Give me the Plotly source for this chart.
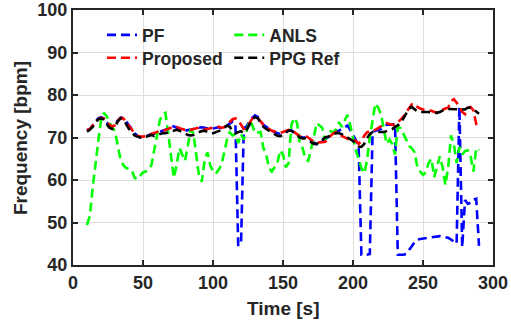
import plotly.graph_objects as go

time_s = list(range(10, 292, 2))

ppg_ref = [
    71.4, 71.8, 72.5, 73.5, 74.3, 74.5, 74.2, 73.2, 72.3, 72.0,
    72.5, 73.8, 74.5, 74.3, 73.0, 72.0, 71.2, 70.5, 70.2, 70.0,
    70.0, 70.2, 70.5, 70.6, 70.4, 70.6, 70.8, 71.0, 71.0, 71.2,
    71.3, 71.5, 71.8, 71.6, 71.2, 70.8, 70.6, 70.5, 70.6, 71.0,
    71.3, 71.5, 71.6, 71.3, 71.0, 71.0, 71.2, 71.5, 71.8, 72.2,
    72.8, 72.5, 71.5, 71.0, 71.2, 71.5, 71.0, 71.8, 73.0, 74.2,
    74.8, 74.5, 73.5, 72.5, 72.0, 71.5, 71.2, 70.8, 70.4, 70.3,
    70.6, 71.2, 71.6, 71.6, 71.0, 70.5, 70.0, 69.8, 69.8, 69.3,
    68.8, 68.5, 68.5, 68.8, 69.4, 70.0, 70.2, 70.4, 70.8, 71.0,
    71.0, 70.8, 70.4, 70.0, 69.8, 69.2, 68.5, 67.9, 67.8, 68.5,
    69.8, 70.8, 71.3, 71.3, 71.3, 71.3, 71.3, 71.5, 71.8, 72.0,
    72.5, 73.0, 73.3, 74.5, 75.8, 76.8, 77.2, 76.6, 76.1, 76.0,
    76.0, 76.0, 76.0, 75.8, 75.8, 75.8, 76.0, 76.4, 76.7, 76.7,
    76.7, 76.7, 76.7, 76.7, 76.6, 76.6, 77.0, 77.0, 76.6, 76.0,
    75.6,
]

proposed = [
    71.8, 72.0, 72.8, 73.6, 74.3, 74.6, 74.5, 73.8, 73.0, 72.6,
    72.9, 74.0, 74.6, 74.5, 73.6, 72.6, 71.8, 71.0, 70.4, 70.2,
    70.2, 70.4, 70.6, 70.8, 71.0, 71.3, 71.5, 71.5, 71.8, 72.0,
    72.3, 72.5, 72.5, 72.2, 72.0, 71.8, 71.8, 71.8, 72.0, 72.2,
    72.3, 72.2, 72.0, 72.0, 72.2, 72.3, 72.5, 72.5, 72.3, 72.4,
    73.0, 73.6, 74.3, 74.5, 74.2, 73.0, 72.0, 72.4, 73.5, 74.4,
    74.9, 74.6, 73.8, 73.0, 72.5, 72.0, 71.6, 71.4, 71.2, 71.1,
    71.3, 71.6, 71.8, 71.8, 71.3, 70.8, 70.3, 70.2, 70.4, 70.0,
    69.4, 69.0, 68.8, 68.8, 68.9, 69.0, 69.4, 70.4, 71.0, 71.3,
    71.0, 70.4, 70.0, 69.6, 69.4, 69.4, 69.2, 68.5, 69.2, 70.4,
    71.2, 71.5, 71.6, 71.8, 72.2, 72.6, 73.2, 73.4, 73.2, 73.0,
    73.0, 73.5, 74.2, 74.9, 75.8, 76.8, 77.8, 78.0, 77.2, 76.8,
    76.6, 76.4, 76.4, 76.3, 76.0, 75.9, 76.3, 76.6, 76.8, 77.0,
    78.6, 79.0, 78.2, 77.4, 76.0, 75.5, 77.0, 77.2, 76.4, 73.2,
    73.0,
]

pf = [
    71.6, 72.0, 72.8, 73.8, 74.5, 74.8, 74.5, 73.6, 72.8, 72.4,
    72.8, 74.0, 74.7, 74.6, 73.8, 72.8, 72.0, 71.0, 70.4, 70.1,
    70.1, 70.3, 70.6, 70.8, 70.9, 71.1, 71.3, 71.5, 71.8, 72.2,
    72.8, 72.6, 72.3, 72.0, 71.8, 71.6, 71.7, 71.8, 72.0, 72.2,
    72.3, 72.4, 72.3, 72.1, 72.0, 72.1, 72.3, 72.4, 72.2, 72.3,
    72.8, 73.4, 73.8, 73.5, 44.7, 44.7, 72.2, 72.6, 73.8, 74.6,
    75.2, 74.8, 73.9, 73.0, 72.5, 72.2, 71.6, 71.3, 71.0, 70.9,
    71.2, 71.5, 71.7, 71.7, 71.2, 70.6, 70.2, 70.0, 70.0, 69.8,
    69.4, 68.9, 68.4, 68.6, 69.0, 69.5, 70.0, 70.5, 71.0, 71.4,
    71.6, 72.0, 72.6, 72.8, 71.8, 70.6, 69.5, 68.2, 42.4, 42.4,
    42.4, 42.6, 71.3, 71.6, 71.8, 72.0, 72.6, 73.0, 73.0, 73.0,
    73.2, 42.4, 42.4, 42.4, 42.6, 43.4, 44.4, 45.4, 46.0, 46.1,
    46.2, 46.3, 46.4, 46.5, 46.7, 46.8, 46.8, 46.7, 46.6, 46.4,
    46.0, 45.4, 45.0, 77.2, 44.2, 55.3, 54.4, 54.6, 55.4, 55.6,
    44.5,
]

anls = [
    49.4, 51.5, 58.0, 64.0, 69.0, 74.0, 75.8, 75.0, 73.5, 72.5,
    71.5, 68.0, 64.8, 63.5, 62.8, 62.6, 62.3, 60.5, 60.2, 61.0,
    61.8, 62.0, 62.5, 63.5, 67.0, 71.0, 74.0, 75.5, 75.8, 71.0,
    66.0, 60.5, 63.5, 67.5, 66.0, 64.5, 68.0, 72.0, 71.0, 66.0,
    61.0, 59.6, 64.5, 66.5, 63.5, 62.0, 61.5, 62.4, 63.5, 66.5,
    69.5, 71.2, 70.5, 70.8, 68.7, 70.8, 69.5, 71.5, 74.0, 73.0,
    71.0, 71.2, 71.3, 67.5, 66.0, 62.8, 62.0, 63.0, 64.0, 67.0,
    66.0, 63.0, 64.0, 73.0, 74.6, 73.5, 68.5, 67.5, 65.0, 64.5,
    67.0, 70.0, 73.4, 72.8, 72.3, 69.4, 70.5, 71.5, 71.2, 72.0,
    73.6, 72.5, 74.0, 75.3, 73.0, 70.0, 67.0, 65.0, 62.8, 61.6,
    64.5, 70.0, 74.0, 78.0, 77.0, 75.5, 72.0, 68.5, 69.5, 68.5,
    66.0, 72.5, 72.2, 71.0, 69.5, 68.0, 67.5, 66.5, 63.0, 62.0,
    61.2, 61.8, 64.0, 65.0, 60.7, 63.0, 65.6, 63.0, 58.8, 63.0,
    70.5, 68.5, 64.0, 67.8, 66.0, 66.8, 67.0, 65.5, 62.0, 67.5,
    67.0,
]

x_ticks = [0, 50, 100, 150, 200, 250, 300]
y_ticks = [40, 50, 60, 70, 80, 90, 100]

series = [
    ("PF", pf, "#0000ff", "legend"),
    ("ANLS", anls, "#00ff00", "legend2"),
    ("Proposed", proposed, "#ff0000", "legend3"),
    ("PPG Ref", ppg_ref, "#000000", "legend4"),
]

fig = go.Figure()
for name, vals, color, lg in series:
    fig.add_trace(go.Scatter(
        x=time_s, y=vals, mode="lines", name=name, legend=lg,
        line=dict(color=color, width=2.6, dash="9px,5px"),
    ))

font_main = dict(family="Liberation Sans, Arial, sans-serif", color="#262626", weight="bold")
axis_common = dict(
    showline=True, linecolor="#262626", linewidth=2, mirror="ticks",
    ticks="inside", ticklen=5, tickwidth=1.5, tickcolor="#262626",
    showgrid=True, gridcolor="#dedede", gridwidth=1, zeroline=False,
    tickfont=dict(size=18, **font_main), automargin=False,
)

def leg(xp, yp):
    return dict(x=xp, y=yp, xanchor="left", yanchor="middle",
                bgcolor="rgba(0,0,0,0)", font=dict(size=17.5, **font_main),
                itemwidth=30)

fig.update_layout(
    width=511, height=324,
    margin=dict(l=73, r=18, t=10, b=59),
    paper_bgcolor="white", plot_bgcolor="white",
    xaxis=dict(range=[0, 300], tickvals=x_ticks, **axis_common),
    yaxis=dict(range=[40, 100], tickvals=y_ticks, **axis_common),
    legend=leg(0.069, 0.902),
    legend2=leg(0.372, 0.902),
    legend3=leg(0.069, 0.812),
    legend4=leg(0.372, 0.812),
    showlegend=True,
    annotations=[
        dict(text="Time [s]", xref="paper", yref="paper", x=0.5, y=-0.169,
             xanchor="center", yanchor="middle", showarrow=False,
             font=dict(size=19, **font_main)),
        dict(text="Frequency [bpm]", xref="paper", yref="paper", x=-0.126, y=0.498,
             xanchor="center", yanchor="middle", showarrow=False, textangle=-90,
             font=dict(size=19, **font_main)),
    ],
)

fig.write_html("out.html")
